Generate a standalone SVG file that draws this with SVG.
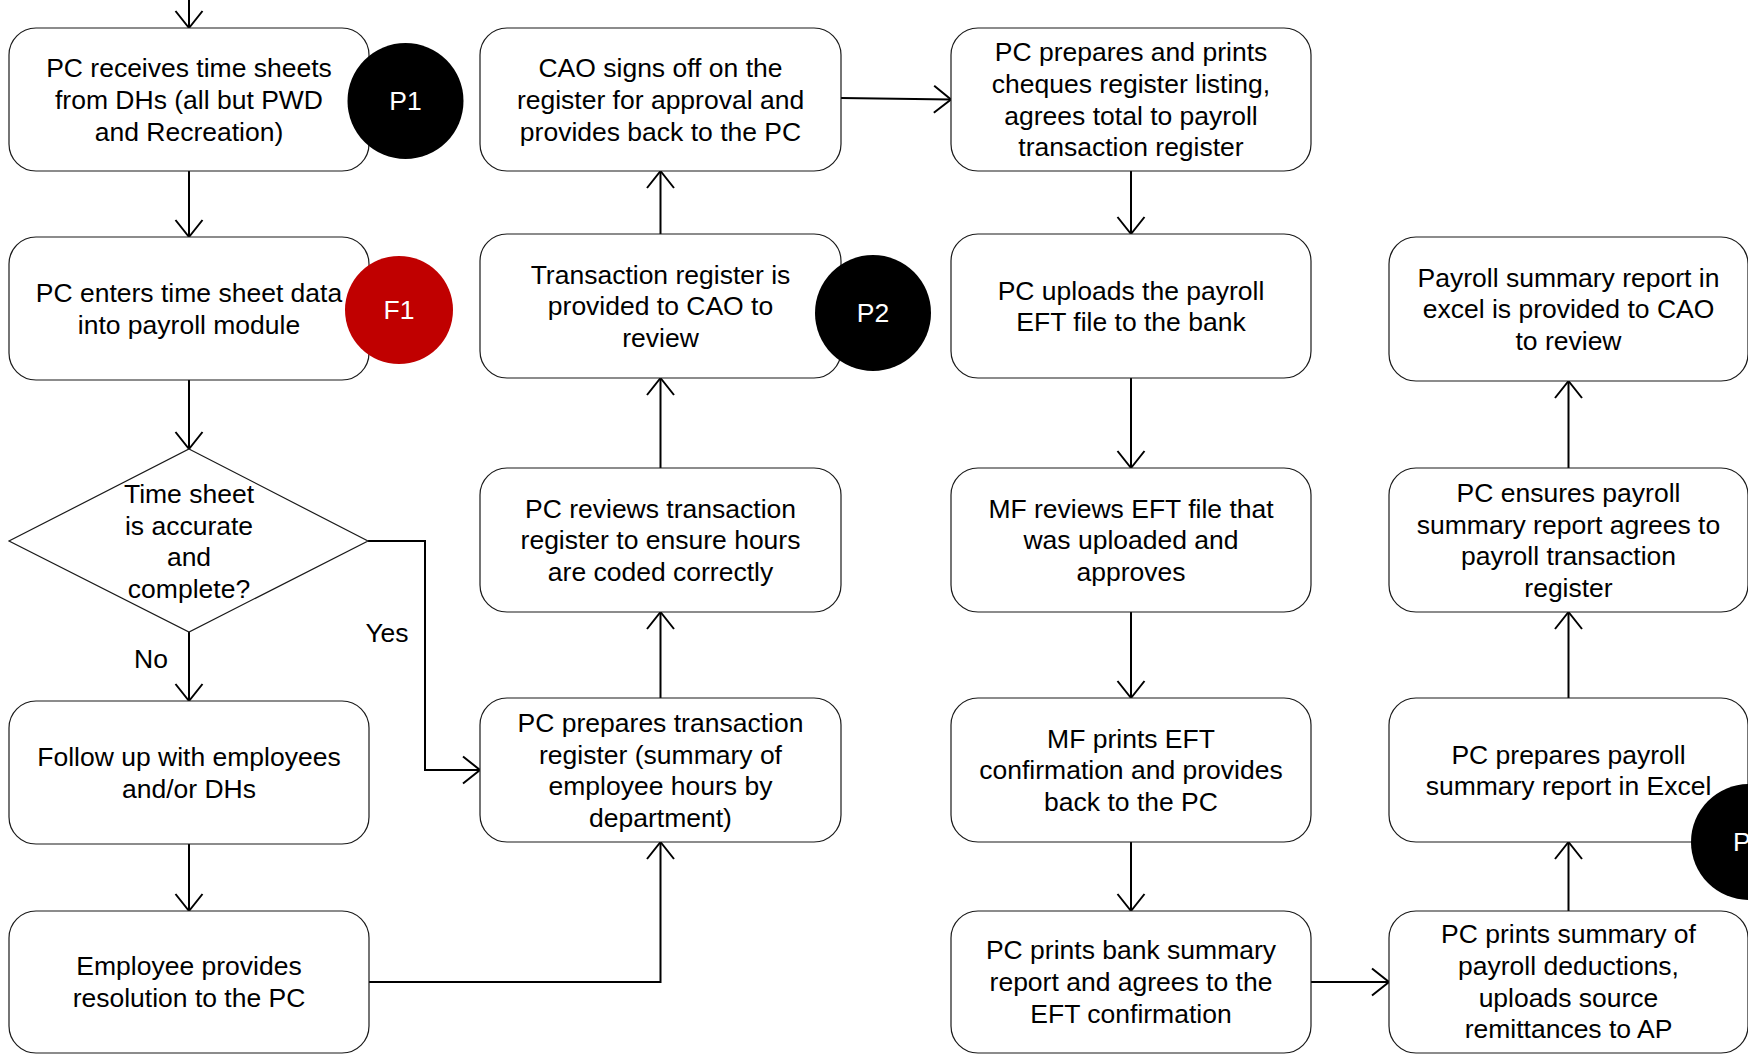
<svg xmlns="http://www.w3.org/2000/svg" width="1748" height="1054" viewBox="0 0 1748 1054">
  <style>
    .box { fill: #fff; stroke: #1a1a1a; stroke-width: 1.2; }
    .t { font-family: "Liberation Sans", Arial, sans-serif; font-size: 26.5px; fill: #000; text-anchor: middle; }
    .badge { fill: #000; }
    .badge-red { fill: #c00000; }
    .bt { font-family: "Liberation Sans", Arial, sans-serif; font-size: 26.5px; fill: #fff; text-anchor: middle; }
    .edge { fill: none; stroke: #000; stroke-width: 2; marker-end: url(#arr); }
  </style>
  <defs>
    <marker id="arr" markerUnits="userSpaceOnUse" markerWidth="40" markerHeight="40" viewBox="-20 -20 40 40" refX="0" refY="0" orient="auto" overflow="visible">
      <path d="M-17,-13.5 L0,0 L-17,13.5" fill="none" stroke="#000" stroke-width="2"/>
    </marker>
  </defs>
  <rect width="1748" height="1054" fill="#fff"/>

  <!-- connectors -->
  <g id="connectors">
    <path class="edge" d="M189,0 V28"/>
    <path class="edge" d="M189,171 V237"/>
    <path class="edge" d="M189,380 V449"/>
    <path class="edge" d="M189,632 V701"/>
    <path class="edge" d="M368,541 H425 V770 H480"/>
    <path class="edge" d="M189,844 V911"/>
    <path class="edge" d="M369,982 H660.5 V842"/>
    <path class="edge" d="M660.5,698 V612"/>
    <path class="edge" d="M660.5,468 V378"/>
    <path class="edge" d="M660.5,234 V171"/>
    <path class="edge" d="M841,98 L951,99.5"/>
    <path class="edge" d="M1131,171 V234"/>
    <path class="edge" d="M1131,378 V468"/>
    <path class="edge" d="M1131,612 V698"/>
    <path class="edge" d="M1131,842 V911"/>
    <path class="edge" d="M1311,982 H1389"/>
    <path class="edge" d="M1568.5,911 V842"/>
    <path class="edge" d="M1568.5,698 V612"/>
    <path class="edge" d="M1568.5,468 V381"/>
    <text class="t" x="151" y="668">No</text>
    <text class="t" x="387" y="642">Yes</text>
  </g>

  <!-- column 1 -->
  <g id="receive-timesheets">
    <rect class="box" x="9" y="28" width="360" height="143" rx="27"/>
    <text class="t"><tspan x="189" y="77.1">PC receives time sheets</tspan><tspan x="189" y="108.8">from DHs (all but PWD</tspan><tspan x="189" y="140.5">and Recreation)</tspan></text>
  </g>
  <g id="enter-data">
    <rect class="box" x="9" y="237" width="360" height="143" rx="27"/>
    <text class="t"><tspan x="189" y="302">PC enters time sheet data</tspan><tspan x="189" y="333.7">into payroll module</tspan></text>
  </g>
  <g id="check-accurate">
    <path class="box" d="M189,449 L368,541 L189,632 L9,541 Z"/>
    <text class="t"><tspan x="189" y="502.8">Time sheet</tspan><tspan x="189" y="534.5">is accurate</tspan><tspan x="189" y="566.2">and</tspan><tspan x="189" y="597.9">complete?</tspan></text>
  </g>
  <g id="follow-up">
    <rect class="box" x="9" y="701" width="360" height="143" rx="27"/>
    <text class="t"><tspan x="189" y="766">Follow up with employees</tspan><tspan x="189" y="797.7">and/or DHs</tspan></text>
  </g>
  <g id="employee-resolution">
    <rect class="box" x="9" y="911" width="360" height="142" rx="27"/>
    <text class="t"><tspan x="189" y="975">Employee provides</tspan><tspan x="189" y="1006.7">resolution to the PC</tspan></text>
  </g>

  <!-- column 2 -->
  <g id="cao-signoff">
    <rect class="box" x="480" y="28" width="361" height="143" rx="27"/>
    <text class="t"><tspan x="660.5" y="77.1">CAO signs off on the</tspan><tspan x="660.5" y="108.8">register for approval and</tspan><tspan x="660.5" y="140.5">provides back to the PC</tspan></text>
  </g>
  <g id="register-to-cao">
    <rect class="box" x="480" y="234" width="361" height="144" rx="27"/>
    <text class="t"><tspan x="660.5" y="283.6">Transaction register is</tspan><tspan x="660.5" y="315.3">provided to CAO to</tspan><tspan x="660.5" y="347">review</tspan></text>
  </g>
  <g id="review-register">
    <rect class="box" x="480" y="468" width="361" height="144" rx="27"/>
    <text class="t"><tspan x="660.5" y="517.6">PC reviews transaction</tspan><tspan x="660.5" y="549.3">register to ensure hours</tspan><tspan x="660.5" y="581">are coded correctly</tspan></text>
  </g>
  <g id="prepare-register">
    <rect class="box" x="480" y="698" width="361" height="144" rx="27"/>
    <text class="t"><tspan x="660.5" y="731.8">PC prepares transaction</tspan><tspan x="660.5" y="763.5">register (summary of</tspan><tspan x="660.5" y="795.2">employee hours by</tspan><tspan x="660.5" y="826.9">department)</tspan></text>
  </g>

  <!-- column 3 -->
  <g id="cheques-register">
    <rect class="box" x="951" y="28" width="360" height="143" rx="27"/>
    <text class="t"><tspan x="1131" y="61.3">PC prepares and prints</tspan><tspan x="1131" y="93">cheques register listing,</tspan><tspan x="1131" y="124.7">agrees total to payroll</tspan><tspan x="1131" y="156.4">transaction register</tspan></text>
  </g>
  <g id="upload-eft">
    <rect class="box" x="951" y="234" width="360" height="144" rx="27"/>
    <text class="t"><tspan x="1131" y="299.5">PC uploads the payroll</tspan><tspan x="1131" y="331.2">EFT file to the bank</tspan></text>
  </g>
  <g id="mf-review">
    <rect class="box" x="951" y="468" width="360" height="144" rx="27"/>
    <text class="t"><tspan x="1131" y="517.6">MF reviews EFT file that</tspan><tspan x="1131" y="549.3">was uploaded and</tspan><tspan x="1131" y="581">approves</tspan></text>
  </g>
  <g id="mf-confirmation">
    <rect class="box" x="951" y="698" width="360" height="144" rx="27"/>
    <text class="t"><tspan x="1131" y="747.6">MF prints EFT</tspan><tspan x="1131" y="779.3">confirmation and provides</tspan><tspan x="1131" y="811">back to the PC</tspan></text>
  </g>
  <g id="bank-summary">
    <rect class="box" x="951" y="911" width="360" height="142" rx="27"/>
    <text class="t"><tspan x="1131" y="959.1">PC prints bank summary</tspan><tspan x="1131" y="990.8">report and agrees to the</tspan><tspan x="1131" y="1022.5">EFT confirmation</tspan></text>
  </g>

  <!-- column 4 -->
  <g id="summary-to-cao">
    <rect class="box" x="1389" y="237" width="359" height="144" rx="27"/>
    <text class="t"><tspan x="1568.5" y="286.6">Payroll summary report in</tspan><tspan x="1568.5" y="318.3">excel is provided to CAO</tspan><tspan x="1568.5" y="350">to review</tspan></text>
  </g>
  <g id="summary-agrees">
    <rect class="box" x="1389" y="468" width="359" height="144" rx="27"/>
    <text class="t"><tspan x="1568.5" y="501.8">PC ensures payroll</tspan><tspan x="1568.5" y="533.5">summary report agrees to</tspan><tspan x="1568.5" y="565.2">payroll transaction</tspan><tspan x="1568.5" y="596.9">register</tspan></text>
  </g>
  <g id="prepare-summary">
    <rect class="box" x="1389" y="698" width="359" height="144" rx="27"/>
    <text class="t"><tspan x="1568.5" y="763.5">PC prepares payroll</tspan><tspan x="1568.5" y="795.2">summary report in Excel</tspan></text>
  </g>
  <g id="deductions">
    <rect class="box" x="1389" y="911" width="359" height="142" rx="27"/>
    <text class="t"><tspan x="1568.5" y="943.3">PC prints summary of</tspan><tspan x="1568.5" y="975">payroll deductions,</tspan><tspan x="1568.5" y="1006.7">uploads source</tspan><tspan x="1568.5" y="1038.4">remittances to AP</tspan></text>
  </g>

  <!-- control badges -->
  <g id="badge-p1">
    <circle class="badge" cx="405.5" cy="101" r="58"/>
    <text class="bt" x="405.5" y="110.3">P1</text>
  </g>
  <g id="badge-f1">
    <circle class="badge-red" cx="399" cy="310" r="54"/>
    <text class="bt" x="399" y="319.3">F1</text>
  </g>
  <g id="badge-p2">
    <circle class="badge" cx="873" cy="313" r="58"/>
    <text class="bt" x="873" y="322.3">P2</text>
  </g>
  <g id="badge-p3">
    <circle class="badge" cx="1749" cy="842" r="58"/>
    <text class="bt" x="1733" y="851.3" style="text-anchor:start">P</text>
  </g>
</svg>
